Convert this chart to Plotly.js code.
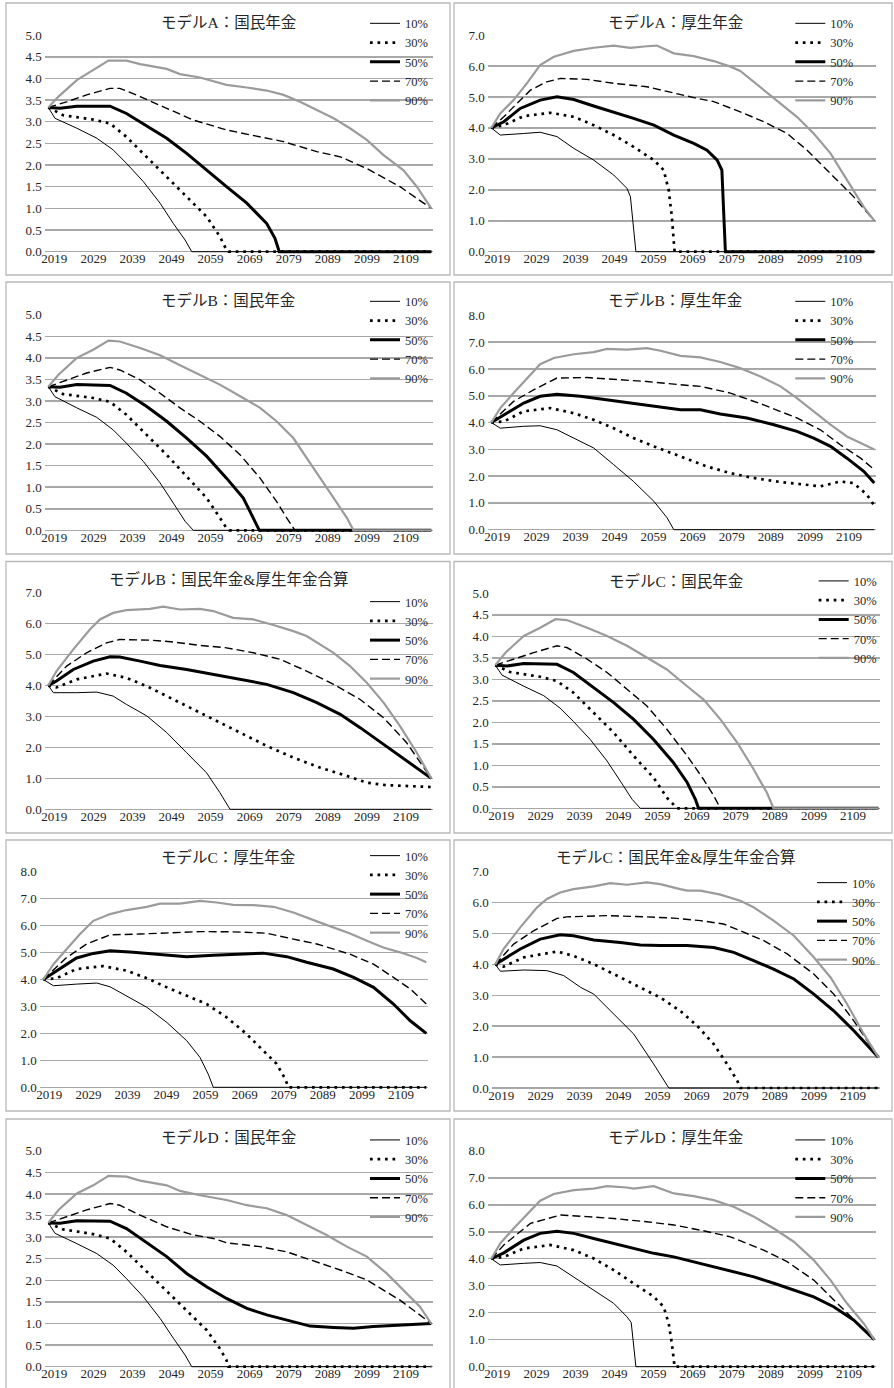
<!DOCTYPE html>
<html><head><meta charset="utf-8">
<script src="https://cdn.plot.ly/plotly-3.0.1.min.js"></script>
<style>html,body{margin:0;padding:0;background:#fff;} #chart{width:894px;height:1388px;}</style>
</head><body><div id="chart"></div>
<script>
// ---------- tick labels / series names ----------
const xTickYears = [2019, 2029, 2039, 2049, 2059, 2069, 2079, 2089, 2099, 2109];
const seriesNames = ['10%', '30%', '50%', '70%', '90%'];

// ---------- data: [year, value] ----------
// モデルA：国民年金
const A_np_p10 = [[2019,3.33],[2020.7,3.08],[2026.3,2.85],[2031.4,2.62],[2035.6,2.35],[2039,2.04],[2043.3,1.62],[2047.6,1.12],[2051,0.65],[2054,0.27],[2055.7,0],[2117,0]];
const A_np_p30 = [[2019,3.33],[2022.8,3.15],[2030.5,3.05],[2034.8,2.96],[2039,2.65],[2044.2,2.19],[2049.3,1.73],[2054.4,1.27],[2059.5,0.81],[2062.9,0.35],[2064.6,0.04],[2065.1,0],[2117,0]];
const A_np_p50 = [[2019,3.33],[2022,3.31],[2026.3,3.36],[2034.8,3.36],[2039,3.19],[2043.3,2.96],[2049.3,2.62],[2054.4,2.27],[2059.5,1.88],[2064.6,1.5],[2069.8,1.12],[2074.9,0.65],[2077,0.31],[2078.1,0],[2117,0]];
const A_np_p70 = [[2019,3.33],[2023.7,3.46],[2028.8,3.62],[2034.8,3.77],[2037.3,3.77],[2042.5,3.58],[2049.3,3.31],[2056.1,3.04],[2064.6,2.81],[2073.2,2.65],[2079.2,2.54],[2087.7,2.31],[2093.7,2.19],[2100.5,1.92],[2109,1.5],[2117,1.0]];
const A_np_p90 = [[2019,3.33],[2021.6,3.58],[2026.3,3.96],[2030.5,4.19],[2034.4,4.41],[2039,4.41],[2042.5,4.33],[2049.3,4.22],[2052.7,4.1],[2057.8,4.02],[2064.6,3.85],[2069.8,3.79],[2074.9,3.72],[2079.2,3.62],[2083.4,3.46],[2087.7,3.27],[2092,3.08],[2096.2,2.85],[2100.5,2.58],[2104.8,2.23],[2109.9,1.88],[2113.3,1.5],[2117,1.0]];
// モデルA：厚生年金
const A_ep_p10 = [[2019,4.0],[2021.3,3.77],[2027.3,3.82],[2031.5,3.86],[2035.8,3.72],[2040.1,3.34],[2045.2,2.96],[2050.3,2.48],[2053.7,2.05],[2054.6,1.78],[2056,0],[2117,0]];
const A_ep_p30 = [[2019,4.0],[2022.2,4.09],[2027.3,4.38],[2034.1,4.49],[2040.1,4.36],[2045.2,4.09],[2050.3,3.77],[2055.4,3.39],[2060.6,2.96],[2063.1,2.64],[2064.4,1.99],[2065.2,1.13],[2065.9,0],[2117,0]];
const A_ep_p50 = [[2019,4.0],[2022.2,4.2],[2026.4,4.63],[2031.5,4.9],[2035.8,5.01],[2040.1,4.92],[2045.2,4.71],[2050.3,4.52],[2055.4,4.31],[2060.6,4.09],[2065.7,3.77],[2070.8,3.5],[2074.2,3.28],[2076.8,2.96],[2078,2.64],[2078.9,0],[2117,0]];
const A_ep_p70 = [[2019,4.0],[2022.2,4.36],[2024.7,4.68],[2029,5.22],[2033.2,5.49],[2036.7,5.6],[2043.5,5.57],[2050.3,5.44],[2058.8,5.33],[2065.7,5.12],[2070.8,4.98],[2075.9,4.85],[2082.7,4.52],[2088.7,4.2],[2094.7,3.82],[2099.8,3.28],[2105.8,2.53],[2111.7,1.78],[2117,1.0]];
const A_ep_p90 = [[2019,4.0],[2021.3,4.47],[2024.7,4.9],[2028.1,5.44],[2031.5,6.03],[2035,6.3],[2040.1,6.49],[2045.2,6.59],[2050.3,6.66],[2054.6,6.59],[2058.8,6.64],[2061.4,6.66],[2065.7,6.41],[2070.8,6.32],[2075.9,6.16],[2080.2,5.98],[2082.7,5.84],[2088.7,5.22],[2093,4.79],[2097.2,4.36],[2101.5,3.82],[2105.8,3.18],[2110,2.32],[2114.3,1.45],[2117,1.0]];
// モデルB：国民年金
const B_np_p10 = [[2019,3.33],[2020.7,3.1],[2026.3,2.84],[2031.4,2.62],[2035.6,2.33],[2039,2.02],[2043.3,1.6],[2047.6,1.1],[2051,0.63],[2054,0.21],[2056.1,0],[2117,0]];
const B_np_p30 = [[2019,3.33],[2022.8,3.16],[2030.5,3.07],[2034.8,2.98],[2039,2.68],[2044.2,2.22],[2049.3,1.75],[2054.4,1.25],[2059.5,0.75],[2062.9,0.29],[2064.6,0.05],[2065.3,0],[2117,0]];
const B_np_p50 = [[2019,3.33],[2022,3.32],[2026.3,3.38],[2034.8,3.36],[2039,3.18],[2044.2,2.87],[2049.3,2.53],[2054.4,2.14],[2059.5,1.72],[2064.6,1.21],[2068.9,0.75],[2071.5,0.29],[2073,0],[2117,0]];
const B_np_p70 = [[2019,3.33],[2023.7,3.49],[2028.8,3.65],[2034.8,3.78],[2037.3,3.72],[2042.5,3.49],[2047.6,3.18],[2052.7,2.84],[2057.8,2.53],[2062.9,2.18],[2068.1,1.75],[2073.2,1.21],[2077.4,0.67],[2080,0.29],[2082.1,0],[2117,0]];
const B_np_p90 = [[2019,3.33],[2021.6,3.61],[2026.3,4.0],[2030.5,4.19],[2034.4,4.4],[2037.3,4.38],[2042.5,4.23],[2047.6,4.06],[2052.7,3.83],[2057.8,3.61],[2062.9,3.38],[2068.1,3.11],[2073.2,2.84],[2077.4,2.53],[2081.7,2.14],[2085.1,1.68],[2088.5,1.21],[2092,0.75],[2095.4,0.29],[2097.1,0],[2117,0]];
// モデルB：厚生年金
const B_ep_p10 = [[2019,4.0],[2021.3,3.79],[2027.3,3.86],[2031.5,3.88],[2035.8,3.73],[2040.1,3.42],[2045.2,3.05],[2050.3,2.43],[2055.4,1.8],[2060.6,1.06],[2064,0.44],[2065.7,0],[2117,0]];
const B_ep_p30 = [[2019,4.0],[2022.2,4.04],[2027.3,4.42],[2034.1,4.54],[2040.1,4.35],[2045.2,4.1],[2050.3,3.79],[2055.4,3.42],[2060.6,3.11],[2067.4,2.74],[2074.2,2.36],[2080.2,2.11],[2086.1,1.93],[2093,1.78],[2099.8,1.68],[2103.2,1.62],[2108.3,1.8],[2111.7,1.74],[2115.1,1.31],[2117,0.9]];
const B_ep_p50 = [[2019,4.0],[2022.2,4.29],[2027.3,4.73],[2031.5,4.98],[2035.8,5.06],[2041.8,4.98],[2048.6,4.85],[2055.4,4.73],[2062.3,4.6],[2067.4,4.48],[2072.5,4.48],[2077.6,4.32],[2084.4,4.17],[2091.3,3.92],[2097.2,3.67],[2101.5,3.42],[2105.8,3.11],[2110,2.67],[2114.3,2.18],[2117,1.74]];
const B_ep_p70 = [[2019,4.0],[2024.7,4.79],[2029.8,5.22],[2035.8,5.66],[2043.5,5.68],[2050.3,5.62],[2058.8,5.53],[2067.4,5.41],[2072.5,5.35],[2080.2,5.1],[2088.7,4.66],[2097.2,4.17],[2103.2,3.73],[2108.3,3.17],[2113.5,2.67],[2117,2.24]];
const B_ep_p90 = [[2019,4.0],[2021.3,4.54],[2024.7,5.1],[2028.1,5.66],[2031.5,6.18],[2035,6.41],[2040.1,6.55],[2045.2,6.63],[2048.6,6.75],[2053.7,6.72],[2058.8,6.78],[2062.3,6.68],[2067.4,6.49],[2072.5,6.43],[2077.6,6.26],[2082.7,6.03],[2087.9,5.72],[2093,5.35],[2097.2,4.91],[2101.5,4.42],[2105.8,3.92],[2110,3.48],[2114.3,3.17],[2117,2.99]];
// モデルB：国民年金&厚生年金合算
const B_tot_p10 = [[2019,4.0],[2020.3,3.77],[2026.3,3.77],[2031.4,3.79],[2035.6,3.66],[2039,3.39],[2044.2,3.02],[2049.3,2.48],[2054.4,1.83],[2059.5,1.18],[2062.9,0.54],[2065.5,0],[2117,0]];
const B_tot_p30 = [[2019,4.0],[2021.1,3.94],[2026.3,4.2],[2033.9,4.39],[2039,4.25],[2044.2,3.98],[2049.3,3.66],[2054.4,3.34],[2061.2,2.91],[2068.1,2.48],[2074.9,2.05],[2081.7,1.67],[2088.5,1.35],[2095.4,1.08],[2100.5,0.86],[2105.6,0.78],[2110.7,0.75],[2117,0.72]];
const B_tot_p50 = [[2019,4.0],[2021.1,4.15],[2025.4,4.52],[2030.5,4.79],[2034.8,4.93],[2037.3,4.92],[2042.5,4.79],[2047.6,4.65],[2054.4,4.52],[2061.2,4.36],[2068.1,4.2],[2074.9,4.04],[2081.7,3.77],[2087.7,3.45],[2093.7,3.07],[2098.8,2.64],[2104.8,2.1],[2110.7,1.56],[2117,1.0]];
const B_tot_p70 = [[2019,4.0],[2023.7,4.63],[2028.8,5.06],[2033.9,5.38],[2037.3,5.49],[2045,5.47],[2051,5.41],[2057.8,5.3],[2064.6,5.22],[2071.5,5.06],[2078.3,4.85],[2085.1,4.47],[2092,4.04],[2098.8,3.55],[2104.8,2.96],[2110.7,2.15],[2117,1.0]];
const B_tot_p90 = [[2019,4.0],[2021.1,4.47],[2025.4,5.17],[2029.7,5.82],[2032.2,6.14],[2035.6,6.35],[2039,6.44],[2045,6.48],[2048.4,6.55],[2052.7,6.46],[2057.8,6.48],[2061.2,6.41],[2066.3,6.19],[2071.5,6.14],[2076.6,5.96],[2081.7,5.76],[2085.1,5.6],[2088.5,5.33],[2092,5.06],[2096.2,4.63],[2100.5,4.09],[2104.8,3.45],[2109,2.69],[2113.3,1.83],[2117,1.0]];
// モデルC：国民年金
const C_np_p10 = [[2019,3.33],[2020.7,3.1],[2026.3,2.84],[2031.4,2.62],[2035.6,2.33],[2039,2.02],[2043.3,1.6],[2047.6,1.1],[2051,0.63],[2054,0.21],[2056.1,0],[2117,0]];
const C_np_p30 = [[2019,3.33],[2022.8,3.17],[2030.5,3.06],[2034.8,2.96],[2039,2.69],[2044.2,2.22],[2049.3,1.76],[2054.4,1.22],[2059.5,0.71],[2062.9,0.25],[2065.5,0],[2117,0]];
const C_np_p50 = [[2019,3.33],[2022,3.31],[2026.3,3.37],[2034.8,3.35],[2039,3.16],[2044.2,2.81],[2049.3,2.46],[2054.4,2.07],[2059.5,1.6],[2064.6,1.06],[2068.1,0.6],[2070.2,0.21],[2071,0],[2117,0]];
const C_np_p70 = [[2019,3.33],[2023.7,3.47],[2028.8,3.62],[2034.8,3.78],[2037.3,3.74],[2042.5,3.47],[2047.6,3.16],[2052.7,2.77],[2057.8,2.38],[2062.9,1.84],[2068.1,1.22],[2072.3,0.67],[2074.9,0.29],[2076.6,0],[2117,0]];
const C_np_p90 = [[2019,3.33],[2021.6,3.62],[2026.3,4.01],[2030.5,4.2],[2034.4,4.4],[2037.3,4.38],[2042.5,4.2],[2047.6,4.01],[2052.7,3.78],[2057.8,3.5],[2062.9,3.23],[2068.1,2.84],[2072.3,2.53],[2076.6,2.07],[2080.9,1.53],[2085.1,0.91],[2088.5,0.36],[2090.2,0],[2117,0]];
// モデルC：厚生年金
const C_ep_p10 = [[2019,4.0],[2021.6,3.77],[2027.5,3.83],[2032.7,3.87],[2036.1,3.73],[2040.3,3.4],[2045.5,2.97],[2050.6,2.41],[2055.7,1.73],[2059.1,1.11],[2061.2,0.49],[2062.5,0],[2117,0]];
const C_ep_p30 = [[2019,4.0],[2022.4,4.05],[2027.5,4.39],[2034.3,4.5],[2040.3,4.33],[2045.5,4.05],[2050.6,3.71],[2055.7,3.4],[2060.8,3.09],[2065.9,2.6],[2071,1.98],[2075.3,1.36],[2078.7,0.87],[2080.9,0.31],[2081.7,0],[2117,0]];
const C_ep_p50 = [[2019,4.0],[2022.4,4.33],[2027.5,4.8],[2031.8,4.97],[2036.1,5.07],[2042,5.01],[2048.9,4.92],[2055.7,4.85],[2062.5,4.9],[2069.3,4.94],[2075.3,4.98],[2081.3,4.85],[2086.4,4.64],[2093.2,4.39],[2098.4,4.08],[2103.5,3.71],[2108.6,3.09],[2112.9,2.47],[2117,2.0]];
const C_ep_p70 = [[2019,4.0],[2025,4.82],[2030.1,5.32],[2036.1,5.66],[2043.7,5.69],[2050.6,5.72],[2059.1,5.78],[2067.6,5.77],[2076.2,5.72],[2083,5.5],[2089,5.32],[2097.5,4.94],[2103.5,4.57],[2108.6,4.08],[2112.9,3.65],[2117,3.09]];
const C_ep_p90 = [[2019,4.0],[2021.6,4.57],[2025,5.13],[2028.4,5.69],[2031.8,6.18],[2036.1,6.43],[2040.3,6.58],[2045.5,6.7],[2048.9,6.82],[2054,6.82],[2059.1,6.92],[2063.4,6.86],[2067.6,6.77],[2072.8,6.76],[2077.9,6.7],[2083,6.49],[2089,6.16],[2093.2,5.93],[2097.5,5.71],[2101.8,5.44],[2106,5.19],[2110.3,5.01],[2114.6,4.8],[2117,4.64]];
// モデルC：国民年金&厚生年金合算
const C_tot_p10 = [[2019,4.0],[2020.3,3.78],[2026.3,3.82],[2032.2,3.8],[2036.5,3.64],[2040.8,3.26],[2044.2,3.04],[2049.3,2.39],[2054.4,1.75],[2059.5,0.78],[2061.7,0.35],[2063.4,0],[2117,0]];
const C_tot_p30 = [[2019,4.0],[2021.1,3.93],[2026.3,4.23],[2034.8,4.42],[2039,4.28],[2044.2,4.01],[2049.3,3.69],[2054.4,3.37],[2061.2,2.93],[2066.3,2.5],[2070.6,2.02],[2074.9,1.42],[2078.3,0.78],[2080.9,0.24],[2081.7,0],[2117,0]];
const C_tot_p50 = [[2019,4.0],[2021.1,4.17],[2025.4,4.5],[2030.5,4.82],[2035.6,4.96],[2039,4.93],[2044.2,4.79],[2051,4.71],[2056.1,4.63],[2061.2,4.61],[2068.1,4.61],[2074.9,4.55],[2080,4.39],[2085.1,4.12],[2090.2,3.85],[2095.4,3.53],[2100.5,3.04],[2105.6,2.5],[2110.7,1.86],[2117,1.0]];
const C_tot_p70 = [[2019,4.0],[2023.7,4.66],[2028.8,5.09],[2034.8,5.49],[2037.3,5.54],[2047.6,5.58],[2057.8,5.54],[2064.6,5.5],[2071.5,5.42],[2077.4,5.31],[2081.7,5.09],[2087.7,4.77],[2093.7,4.34],[2100.5,3.69],[2105.6,3.04],[2110.7,2.18],[2117,1.0]];
const C_tot_p90 = [[2019,4.0],[2021.1,4.5],[2025.4,5.2],[2029.7,5.85],[2032.2,6.12],[2035.6,6.33],[2039,6.44],[2044.2,6.53],[2048.4,6.63],[2052.7,6.58],[2057.8,6.66],[2061.2,6.6],[2066.3,6.44],[2068.1,6.39],[2071.5,6.39],[2076.6,6.26],[2081.7,6.06],[2085.1,5.85],[2090.2,5.42],[2095.4,4.93],[2100.5,4.23],[2104.8,3.58],[2109,2.72],[2113.3,1.75],[2117,1.0]];
// モデルD：国民年金
const D_np_p10 = [[2019,3.33],[2020.7,3.09],[2026.3,2.85],[2031.4,2.62],[2035.6,2.35],[2039,2.04],[2043.3,1.62],[2047.6,1.12],[2051,0.66],[2054,0.27],[2055.7,0],[2117,0]];
const D_np_p30 = [[2019,3.33],[2022.8,3.18],[2030.5,3.07],[2034.8,2.97],[2039,2.66],[2044.2,2.2],[2049.3,1.77],[2054.4,1.31],[2059.5,0.85],[2062.9,0.42],[2064.6,0.15],[2065.1,0],[2117,0]];
const D_np_p50 = [[2019,3.33],[2022,3.32],[2026.3,3.38],[2034.8,3.37],[2039,3.2],[2043.3,2.93],[2049.3,2.55],[2054.4,2.16],[2059.5,1.85],[2064.6,1.58],[2069.8,1.35],[2074.9,1.2],[2080,1.08],[2086,0.94],[2092,0.91],[2097.1,0.89],[2102.2,0.93],[2109,0.96],[2117,1.0]];
const D_np_p70 = [[2019,3.33],[2023.7,3.47],[2028.8,3.63],[2034.8,3.78],[2037.3,3.74],[2042.5,3.51],[2049.3,3.24],[2056.1,3.05],[2061.2,2.97],[2064.6,2.87],[2073.2,2.78],[2080,2.66],[2087.7,2.43],[2093.7,2.24],[2100.5,2.01],[2109,1.54],[2117,1.0]];
const D_np_p90 = [[2019,3.33],[2021.6,3.63],[2026.3,4.01],[2030.5,4.2],[2034.4,4.42],[2039,4.4],[2042.5,4.31],[2049.3,4.2],[2052.7,4.07],[2057.8,3.97],[2064.6,3.86],[2069.8,3.74],[2074.9,3.67],[2080,3.51],[2085.1,3.28],[2090.2,3.05],[2095.4,2.78],[2100.5,2.55],[2105.6,2.16],[2110.7,1.7],[2114.1,1.39],[2117,1.0]];
// モデルD：厚生年金
const D_ep_p10 = [[2019,4.0],[2021.3,3.77],[2027.3,3.83],[2031.5,3.86],[2035.8,3.73],[2040.1,3.33],[2045.2,2.84],[2050.3,2.35],[2053.7,1.85],[2054.8,1.64],[2056,0],[2117,0]];
const D_ep_p30 = [[2019,4.0],[2022.2,4.07],[2027.3,4.38],[2034.1,4.51],[2040.1,4.32],[2045.2,4.01],[2050.3,3.58],[2055.4,3.09],[2060.6,2.59],[2063.1,2.22],[2064.4,1.6],[2065.2,0.86],[2065.9,0],[2117,0]];
const D_ep_p50 = [[2019,4.0],[2022.2,4.22],[2027.3,4.69],[2031.5,4.94],[2035.8,5.02],[2040.1,4.94],[2045.2,4.75],[2050.3,4.57],[2055.4,4.38],[2060.6,4.2],[2065.7,4.07],[2070.8,3.89],[2075.9,3.7],[2081,3.52],[2086.2,3.33],[2091.3,3.09],[2096.4,2.84],[2101.5,2.59],[2106.6,2.22],[2111.7,1.73],[2117,1.0]];
const D_ep_p70 = [[2019,4.0],[2022.2,4.51],[2029,5.31],[2036.7,5.62],[2043.5,5.56],[2050.3,5.49],[2058.8,5.37],[2065.7,5.25],[2072.5,5.06],[2080.2,4.81],[2088.7,4.32],[2094.7,3.89],[2101.5,3.21],[2106.6,2.47],[2111.7,1.73],[2117,1.0]];
const D_ep_p90 = [[2019,4.0],[2021.3,4.57],[2024.7,5.12],[2028.1,5.62],[2031.5,6.15],[2035,6.4],[2040.1,6.54],[2045.2,6.6],[2048.6,6.69],[2053.7,6.64],[2055.4,6.6],[2060.6,6.69],[2065.7,6.42],[2070.8,6.32],[2075.9,6.17],[2081,5.93],[2086.2,5.56],[2091.3,5.12],[2096.4,4.63],[2101.5,3.95],[2105.8,3.21],[2110,2.35],[2114.3,1.6],[2117,1.0]];

// ---------- panel layout (pixel geometry, not data) ----------
const W = 894, H = 1388, PPY = 3.908;
const panels = [
  {title:'モデルA：国民年金', s:[A_np_p10,A_np_p30,A_np_p50,A_np_p70,A_np_p90], box:[6,3,450,275], x0:48.3, yTop:35, yZero:251.7, ymax:5, dtick:0.5, leg:[370,26.7], tc:[228,21.7]},
  {title:'モデルA：厚生年金', s:[A_ep_p10,A_ep_p30,A_ep_p50,A_ep_p70,A_ep_p90], box:[454,3,892,275], x0:491.3, yTop:35, yZero:251.7, ymax:7, dtick:1, leg:[795.3,26.7], tc:[675,21.7]},
  {title:'モデルB：国民年金', s:[B_np_p10,B_np_p30,B_np_p50,B_np_p70,B_np_p90], box:[6,282,450,554], x0:48.3, yTop:314.7, yZero:530.3, ymax:5, dtick:0.5, leg:[370,304.7], tc:[228,299.7]},
  {title:'モデルB：厚生年金', s:[B_ep_p10,B_ep_p30,B_ep_p50,B_ep_p70,B_ep_p90], box:[454,282,892,554], x0:491.3, yTop:315.3, yZero:529.7, ymax:8, dtick:1, leg:[795.3,304.7], tc:[675,299.7]},
  {title:'モデルB：国民年金&厚生年金合算', s:[B_tot_p10,B_tot_p30,B_tot_p50,B_tot_p70,B_tot_p90], box:[6,561.5,450,833], x0:48.3, yTop:592.7, yZero:809.3, ymax:7, dtick:1, leg:[370,605], tc:[229,579.3]},
  {title:'モデルC：国民年金', s:[C_np_p10,C_np_p30,C_np_p50,C_np_p70,C_np_p90], box:[454,561.5,892,833], x0:495.3, yTop:593.3, yZero:808.3, ymax:5, dtick:0.5, leg:[818.7,584.3], tc:[676,581]},
  {title:'モデルC：厚生年金', s:[C_ep_p10,C_ep_p30,C_ep_p50,C_ep_p70,C_ep_p90], box:[6,840,450,1111], x0:43.3, yTop:871.7, yZero:1087.3, ymax:8, dtick:1, leg:[370,859], tc:[228,857.3]},
  {title:'モデルC：国民年金&厚生年金合算', s:[C_tot_p10,C_tot_p30,C_tot_p50,C_tot_p70,C_tot_p90], box:[454,840,892,1111], x0:495.3, yTop:871.7, yZero:1088, ymax:7, dtick:1, leg:[817,886], tc:[675.3,857.3]},
  {title:'モデルD：国民年金', s:[D_np_p10,D_np_p30,D_np_p50,D_np_p70,D_np_p90], box:[6,1119,450,1396], x0:48.3, yTop:1150.7, yZero:1366.7, ymax:5, dtick:0.5, leg:[370,1143.3], tc:[228,1136.7]},
  {title:'モデルD：厚生年金', s:[D_ep_p10,D_ep_p30,D_ep_p50,D_ep_p70,D_ep_p90], box:[454,1119,892,1396], x0:491.3, yTop:1150.7, yZero:1366.7, ymax:8, dtick:1, leg:[795.3,1143.3], tc:[675,1136.7]}
];

const lineStyles = [
  {color:'#000000', width:1},
  {color:'#000000', width:2.7, dash:'2.7px,4.8px'},
  {color:'#000000', width:3},
  {color:'#000000', width:1.4, dash:'8px,4px'},
  {color:'#9b9b9b', width:2.2}
];

const SERIF = 'Liberation Serif, Times New Roman, serif';
const TITLEFONT = 'Liberation Serif, Noto Sans CJK JP, serif';
const TXT = '#262626';
const GRID = '#a8a8a8';

const traces = [];
const layout = {
  width: W, height: H,
  margin: {l:0, r:0, t:0, b:0},
  paper_bgcolor: '#ffffff', plot_bgcolor: 'rgba(0,0,0,0)',
  showlegend: true,
  shapes: [], annotations: []
};

panels.forEach((p, i) => {
  const n = i + 1;
  const xa = n === 1 ? 'xaxis' : 'xaxis' + n;
  const ya = n === 1 ? 'yaxis' : 'yaxis' + n;
  const xr = n === 1 ? 'x' : 'x' + n;
  const yr = n === 1 ? 'y' : 'y' + n;
  const lg = n === 1 ? 'legend' : 'legend' + n;
  const pad = 2.5;
  const yPx = p.yZero - p.yTop;

  layout[xa] = {
    domain: [(p.x0 - 3.5) / W, (p.x0 + 385) / W],
    range: [2019 - 3.5 / PPY, 2019 + 385 / PPY],
    anchor: yr,
    tickmode: 'array', tickvals: xTickYears, ticktext: xTickYears.map(String),
    showgrid: false, zeroline: false, showline: false, ticks: '',
    ticklabelshift: 6, ticklabelstandoff: -5,
    tickfont: {family: SERIF, size: 13, color: TXT},
    fixedrange: true
  };
  layout[ya] = {
    domain: [1 - (p.yZero + pad) / H, 1 - p.yTop / H],
    range: [-pad * p.ymax / yPx, p.ymax * 1.0004],
    anchor: xr,
    tick0: 0, dtick: p.dtick, tickformat: '.1f',
    showgrid: true, gridcolor: GRID, gridwidth: 1.5,
    zeroline: false, showline: false, ticks: '',
    ticklabelstandoff: 2,
    tickfont: {family: SERIF, size: 13, color: TXT},
    fixedrange: true
  };
  layout[lg] = {
    x: (p.leg[0] - 5) / W, xanchor: 'left',
    y: 1 - (p.leg[1] - 18) / H, yanchor: 'top',
    bgcolor: 'rgba(0,0,0,0)', borderwidth: 0,
    font: {family: SERIF, size: 12.5, color: TXT},
    itemwidth: 30, tracegroupgap: 0, traceorder: 'normal'
  };
  layout.shapes.push({
    type: 'rect', xref: 'paper', yref: 'paper', layer: 'below',
    x0: p.box[0] / W, x1: p.box[2] / W, y0: 1 - p.box[3] / H, y1: 1 - p.box[1] / H,
    line: {color: '#b9b9b9', width: 1.3}, fillcolor: 'rgba(0,0,0,0)'
  });
  layout.annotations.push({
    text: p.title, xref: 'paper', yref: 'paper',
    x: p.tc[0] / W, y: 1 - p.tc[1] / H, xanchor: 'center', yanchor: 'middle',
    showarrow: false, font: {family: TITLEFONT, size: 15.5, color: TXT}
  });

  p.s.forEach((ser, k) => {
    traces.push({
      type: 'scatter', mode: 'lines',
      x: ser.map(d => d[0]), y: ser.map(d => d[1]),
      xaxis: xr, yaxis: yr, legend: lg,
      name: seriesNames[k], showlegend: true,
      line: Object.assign({shape: 'linear'}, lineStyles[k]),
      hoverinfo: 'skip'
    });
  });
});

Plotly.newPlot('chart', traces, layout, {staticPlot: true, displayModeBar: false});
</script></body></html>
